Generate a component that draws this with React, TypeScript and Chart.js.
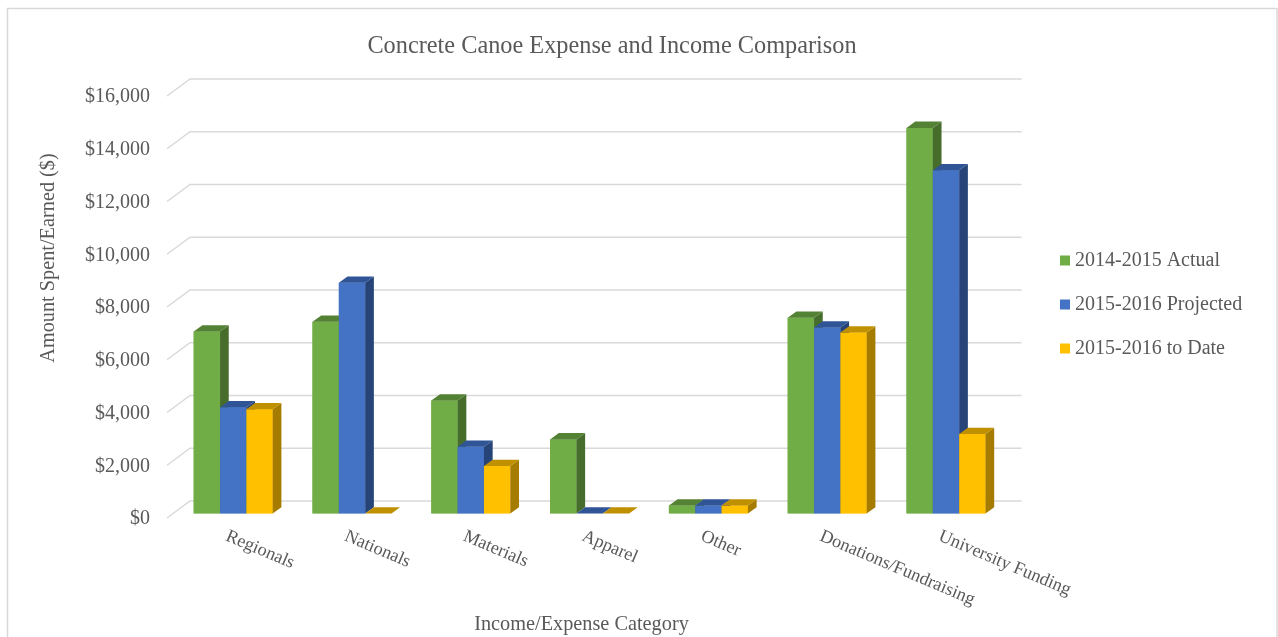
import { useEffect, useRef } from "react";
import { Chart, registerables } from "chart.js";

Chart.register(...registerables);

// Chart contents
const chartTitle = "Concrete Canoe Expense and Income Comparison";
const xAxisTitle = "Income/Expense Category";
const yAxisTitle = "Amount Spent/Earned ($)";
const categories = ["Regionals", "Nationals", "Materials", "Apparel", "Other", "Donations/Fundraising", "University Funding"];
const seriesNames = ["2014-2015 Actual", "2015-2016 Projected", "2015-2016 to Date"];
const actual1415 = [6900, 7270, 4280, 2810, 300, 7420, 14620];
const projected1516 = [4030, 8750, 2530, 0, 300, 7050, 13010];
const toDate1516 = [3950, 0, 1800, 0, 300, 6860, 3010];
const yMax = 16000;
const yStep = 2000;

// Face colours per series: front, top, right side
const frontColors = ["#70AD47", "#4472C4", "#FFC000"];
const topColors = ["#548235", "#2F5597", "#BF9000"];
const sideColors = ["#476D2D", "#264478", "#A67C00"];
const gridColor = "#D9D9D9";
const textColor = "#595959";
const serif = "'Liberation Serif', serif";

// Plot frame on the plane of the bars' front faces
const plotLeft = 173.8;
const plotRight = 1005.4;
const plotTop = 91.5;
const plotBottom = 513.5;
const canvasWidth = 1278;
const canvasHeight = 637;
const titleCenterX = 612;
const legendLeft = 1041;
const legendDrop = 2;

// Oblique projection
const barDepthX = 8.7;
const barDepthY = 6.3;
const wallFrontX = -6.8;
const wallFrontY = 4.5;
const wallBackX = 16.2;
const wallBackY = -12.5;

const fillFace = (ctx: CanvasRenderingContext2D, points: number[][], color: string) => {
  ctx.fillStyle = color;
  ctx.beginPath();
  points.forEach(([x, y], i) => (i ? ctx.lineTo(x, y) : ctx.moveTo(x, y)));
  ctx.closePath();
  ctx.fill();
};

// Card outline, then the back wall gridlines with their slanted side-wall part
const wallPlugin = {
  id: "wall",
  beforeDatasetsDraw(chart: any) {
    const { ctx, scales } = chart;
    ctx.save();
    ctx.strokeStyle = gridColor;
    ctx.lineWidth = 1.5;
    ctx.strokeRect(7.5, 8.5, 1269.5, 640);
    for (const tick of scales.y.ticks) {
      const y = scales.y.getPixelForValue(tick.value);
      ctx.beginPath();
      ctx.moveTo(plotLeft + wallFrontX, y + wallFrontY);
      ctx.lineTo(plotLeft + wallBackX, y + wallBackY);
      ctx.lineTo(plotRight + wallBackX, y + wallBackY);
      ctx.stroke();
    }
    ctx.restore();
  },
};

// Left-to-right painting: each series' front face hides the side of the series before it
const depthPlugin = {
  id: "depth",
  afterDatasetsDraw(chart: any) {
    const { ctx } = chart;
    ctx.save();
    seriesNames.forEach((_, index) => {
      for (const bar of chart.getDatasetMeta(index).data) {
        const { x, y, base, width } = bar.getProps(["x", "y", "base", "width"], true);
        const l = x - width / 2;
        const r = x + width / 2;
        bar.draw(ctx);
        fillFace(
          ctx,
          [[r, y], [r + barDepthX, y - barDepthY], [r + barDepthX, base - barDepthY], [r, base]],
          sideColors[index],
        );
        fillFace(
          ctx,
          [[l, y], [l + barDepthX, y - barDepthY], [r + barDepthX, y - barDepthY], [r, y]],
          topColors[index],
        );
      }
    });
    ctx.restore();
  },
};

// Axis captions sit off the centre of their scales
const captionPlugin = {
  id: "captions",
  afterDraw(chart: any) {
    const { ctx } = chart;
    ctx.save();
    ctx.fillStyle = textColor;
    ctx.font = `20.3px ${serif}`;
    ctx.textAlign = "center";
    ctx.textBaseline = "middle";
    ctx.fillText(xAxisTitle, 581.5, 624.5);
    ctx.translate(48.5, 258);
    ctx.rotate(-Math.PI / 2);
    ctx.fillText(yAxisTitle, 0, 0);
    ctx.restore();
  },
};

// The legend stands clear of the plot, centred on its height
const legendPlacePlugin = {
  id: "legendPlace",
  afterLayout(chart: any) {
    const legend = chart.legend;
    legend.left = legendLeft;
    legend.right = legendLeft + legend.width;
    legend.top = plotTop + legendDrop;
    legend.bottom = plotBottom + legendDrop;
  },
};

export default function App() {
  const canvasRef = useRef<HTMLCanvasElement>(null);

  useEffect(() => {
    document.body.style.margin = "0";
    document.body.style.background = "#fff";
    const values = [actual1415, projected1516, toDate1516];
    let paddingLeft = 0;
    const chart: any = new Chart(canvasRef.current!, {
      type: "bar",
      data: {
        labels: categories,
        datasets: seriesNames.map((label, i) => ({
          label,
          data: values[i],
          backgroundColor: frontColors[i],
          borderWidth: 0,
          categoryPercentage: 0.665,
          barPercentage: 1,
        })),
      },
      options: {
        animation: false,
        responsive: false,
        layout: { padding: { left: 0, right: 0, top: 0, bottom: 0 } },
        plugins: {
          title: {
            display: true,
            text: chartTitle,
            color: textColor,
            font: { family: serif, size: 24.3, weight: "normal" },
            padding: { top: 32, bottom: 30.34 },
          },
          legend: {
            position: "right",
            labels: {
              color: textColor,
              font: { family: serif, size: 20 },
              usePointStyle: true,
              pointStyle: "rect",
              boxWidth: 0.01,
              boxHeight: 10,
              padding: 24,
            },
          },
          tooltip: { enabled: false },
        },
        scales: {
          x: {
            border: { display: false },
            grid: { display: false, drawTicks: false },
            ticks: {
              color: textColor,
              font: { family: serif, size: 18.2 },
              autoSkip: false,
              minRotation: -23,
              maxRotation: -23,
              padding: 12,
              labelOffset: -6.7,
            },
            afterFit(scale: any) {
              scale.height = canvasHeight - plotBottom;
              scale.paddingLeft = 0;
              scale.paddingRight = 0;
              // A clockwise tilt hangs each label from its first letter
              scale._getXAxisLabelAlignment = () => "left";
            },
          },
          y: {
            min: 0,
            max: yMax,
            border: { display: false },
            grid: { display: false, drawTicks: false },
            ticks: {
              stepSize: yStep,
              color: textColor,
              font: { family: serif, size: 20 },
              padding: plotLeft - 150,
              labelOffset: wallFrontY + 1.2,
              callback: (v: any) => "$" + Number(v).toLocaleString("en-US"),
            },
            afterFit(scale: any) {
              scale.width = plotLeft - paddingLeft;
            },
          },
        },
      },
      plugins: [wallPlugin, depthPlugin, captionPlugin, legendPlacePlugin],
    } as any);

    // Outer padding follows from the measured legend so that the plot lands on its frame
    const paddingRight = canvasWidth - plotRight - chart.legend.width;
    paddingLeft = 2 * titleCenterX - canvasWidth + paddingRight;
    chart.options.layout.padding.left = paddingLeft;
    chart.options.layout.padding.right = paddingRight;
    chart.update();

    return () => chart.destroy();
  }, []);

  return <canvas ref={canvasRef} width={canvasWidth} height={canvasHeight} style={{ display: "block" }} />;
}
